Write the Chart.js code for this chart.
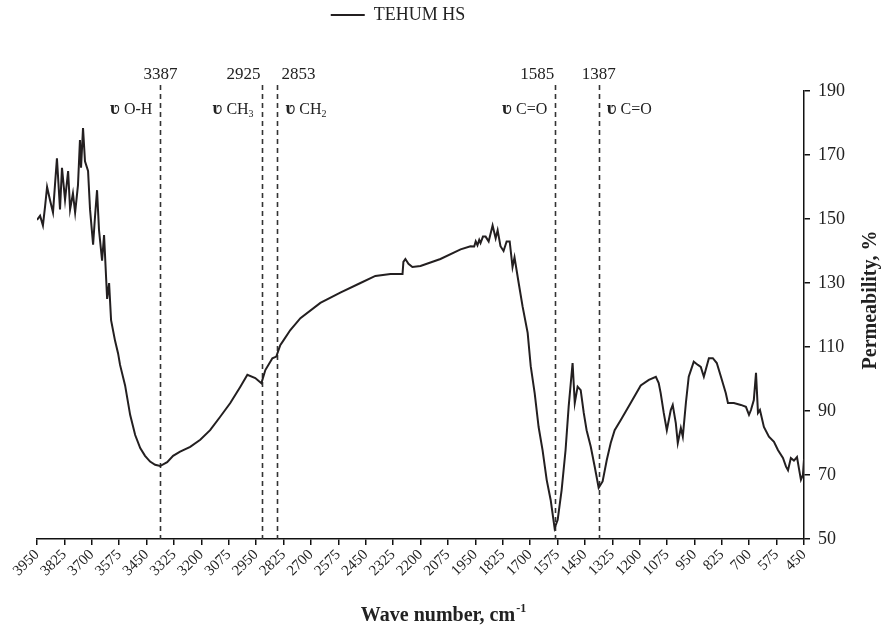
<!DOCTYPE html>
<html>
<head>
<meta charset="utf-8">
<script src="https://cdn.jsdelivr.net/npm/chart.js@4.4.0/dist/chart.umd.min.js"></script>
<style>
  html, body { margin: 0; padding: 0; background: #fff; }
  #wrap { width: 886px; height: 629px; }
</style>
</head>
<body>
<div id="wrap"><canvas id="irChart"></canvas></div>
<script>
// IR spectrum, TEHUM HS
const waveNumbers = [
  3950, 3936, 3923, 3913, 3904, 3891, 3877, 3868, 3859, 3845, 3836, 3822, 3808, 3799, 3786, 3776,
  3763, 3754, 3749, 3740, 3731, 3717, 3708, 3694, 3685, 3676, 3667, 3653, 3644, 3630, 3621, 3612,
  3594, 3580, 3571, 3548, 3525, 3502, 3479, 3457, 3434, 3411, 3388, 3356, 3329, 3297, 3251, 3205,
  3160, 3114, 3068, 3022, 2990, 2954, 2926, 2908, 2876, 2858, 2840, 2826, 2794, 2748, 2657, 2566,
  2474, 2406, 2337, 2282, 2278, 2269, 2255, 2237, 2200, 2109, 2017, 1972, 1955, 1948, 1940, 1932,
  1926, 1915, 1903, 1889, 1871, 1857, 1848, 1835, 1821, 1807, 1793, 1780, 1771, 1752, 1734, 1711,
  1697, 1679, 1661, 1643, 1624, 1606, 1588, 1574, 1556, 1538, 1524, 1506, 1496, 1483, 1469, 1455,
  1442, 1423, 1405, 1387, 1369, 1350, 1332, 1314, 1286, 1241, 1195, 1158, 1126, 1113, 1104, 1090,
  1076, 1058, 1049, 1035, 1026, 1012, 1003, 989, 976, 953, 934, 921, 907, 884, 866, 848,
  829, 807, 797, 770, 738, 715, 701, 692, 679, 669, 660, 651, 633, 610, 587, 569,
  546, 532, 523, 510, 496, 482, 473, 464, 455, 450
];
const permeability = [
  149.7, 151, 148, 154, 160, 156, 152, 160.6, 169, 153, 166, 156, 165, 153, 158, 152,
  160.6, 174.7, 166, 178.4, 168, 165, 153, 142, 151, 159, 146.5, 137, 145, 125, 130, 118.4,
  112, 108, 104.4, 98, 88.8, 82.5, 78.4, 76, 74.2, 73.2, 72.8, 74, 76, 77.3, 78.8, 81,
  84, 88.2, 92.5, 97.6, 101.3, 100.3, 98.7, 102.8, 106.5, 107, 110.6, 112, 115.3, 119, 123.8, 127,
  130, 132.2, 132.8, 132.8, 136.6, 137.5, 136, 135, 135.3, 137.5, 140.5, 141.5, 141.4, 143, 141.8, 143.5,
  142.5, 144.5, 144.5, 143, 148, 144, 146.5, 141.5, 140, 143, 143, 135, 138, 130, 122.6, 114.4,
  104, 95.6, 85, 77.8, 68.4, 62.2, 53.4, 56, 65.3, 77.8, 91.3, 105, 92.5, 97.6, 96.5, 89.4,
  84, 78.8, 72.6, 66, 68, 74.7, 80, 84, 87.2, 92.5, 98, 99.7, 100.7, 98.7, 95.6, 89.4,
  84, 90.3, 91.9, 86.2, 80, 84.7, 82, 92.5, 100.7, 105.4, 104.4, 103.8, 100.7, 106.5, 106.5, 105,
  100.7, 95.6, 92.5, 92.5, 91.9, 91.3, 88.8, 90.3, 93.4, 101.9, 89.4, 90.3, 85, 82, 80.4, 77.8,
  75.3, 72.6, 71.5, 75.3, 74.5, 75.6, 72, 68.5, 70, 75
];
const xMin = 450, xMax = 3950, xStep = 125;
const yMin = 50, yMax = 190, yStep = 20;

// marked bands
const peakPositions = [3387, 2925, 2853, 1585, 1387];
const peakGroups = ['O-H', 'CH3', 'CH2', 'C=O', 'C=O'];
const peakSides = ['left', 'left', 'right', 'left', 'right'];
const peakNumberAlign = ['center', 'right', 'left', 'right', 'center'];

const SERIF = '"Liberation Serif", "Times New Roman", "DejaVu Serif", serif';
const INK = '#231f20';

const spectrumPoints = waveNumbers.map((w, i) => ({ x: w, y: permeability[i] }));

const annotatePlugin = {
  id: 'annotate',
  afterLayout(chart) {
    // legend sits at the very top, a bit left of centre
    const lg = chart.legend;
    if (lg) {
      const h = lg.height;
      lg.top = 0;
      lg.bottom = h;
      lg.left -= 45;
      lg.right -= 45;
    }
  },
  beforeDatasetsDraw(chart) {
    const { ctx, chartArea, scales: { x } } = chart;
    ctx.save();
    ctx.strokeStyle = '#333';
    ctx.lineWidth = 1.6;
    ctx.setLineDash([5, 4]);
    peakPositions.forEach(p => {
      const px = Math.round(x.getPixelForValue(p)) + 0.5;
      ctx.beginPath();
      ctx.moveTo(px, chartArea.top - 6);
      ctx.lineTo(px, chartArea.bottom);
      ctx.stroke();
    });
    ctx.restore();
  },
  afterDraw(chart) {
    const { ctx, chartArea, scales: { x } } = chart;
    ctx.save();
    ctx.fillStyle = '#222';
    ctx.textBaseline = 'alphabetic';

    peakPositions.forEach((p, i) => {
      const px = x.getPixelForValue(p);
      // number above the line
      ctx.font = '17px ' + SERIF;
      const al = peakNumberAlign[i];
      ctx.textAlign = al;
      const nx = al === 'right' ? px - 1 : al === 'left' ? px + 4 : px;
      ctx.fillText(String(p), nx, chartArea.top - 12);

      // band label, e.g. ʋ CH3
      const name = peakGroups[i];
      const hasSub = /\d$/.test(name);
      const main = hasSub ? name.slice(0, -1) : name;
      const sub = hasSub ? name.slice(-1) : '';
      const symFont = 'bold 19px ' + SERIF;
      const mainFont = '16px ' + SERIF;
      const subFont = '10px ' + SERIF;
      ctx.font = symFont; const wSym = ctx.measureText('ʋ').width;
      ctx.font = mainFont; const wMain = ctx.measureText(' ' + main).width;
      ctx.font = subFont; const wSub = sub ? ctx.measureText(sub).width : 0;
      const total = wSym + wMain + wSub;
      let sx = peakSides[i] === 'left' ? px - 8 - total : px + 8;
      const by = chartArea.top + 23;
      ctx.textAlign = 'left';
      ctx.font = symFont; ctx.fillText('ʋ', sx, by); sx += wSym;
      ctx.font = mainFont; ctx.fillText(' ' + main, sx, by); sx += wMain;
      if (sub) { ctx.font = subFont; ctx.fillText(sub, sx, by + 3); }
    });

    // x axis title with superscript
    const xt = 'Wave number, cm';
    ctx.font = 'bold 20px ' + SERIF;
    const w1 = ctx.measureText(xt).width;
    ctx.font = 'bold 12px ' + SERIF;
    const w2 = ctx.measureText('-1').width;
    let tx = chart.width / 2 - (w1 + w2) / 2;
    ctx.textAlign = 'left';
    ctx.font = 'bold 20px ' + SERIF;
    ctx.fillText(xt, tx, 621);
    ctx.font = 'bold 12px ' + SERIF;
    ctx.fillText('-1', tx + w1 + 1, 612);

    // y axis title on the right, reading upward
    ctx.translate(876, 300);
    ctx.rotate(-Math.PI / 2);
    ctx.textAlign = 'center';
    ctx.font = 'bold 20px ' + SERIF;
    ctx.fillText('Permeability, %', 0, 0);
    ctx.restore();
  }
};

Chart.defaults.font.family = SERIF;
Chart.defaults.color = '#222';

new Chart(document.getElementById('irChart'), {
  type: 'line',
  data: {
    datasets: [{
      label: 'TEHUM HS',
      data: spectrumPoints,
      borderColor: INK,
      backgroundColor: INK,
      borderWidth: 2,
      pointRadius: 0,
      tension: 0,
      fill: false,
    }],
  },
  options: {
    responsive: true,
    maintainAspectRatio: false,
    animation: false,
    layout: { padding: { top: 2 } },
    plugins: {
      legend: {
        position: 'top',
        labels: {
          usePointStyle: true,
          pointStyle: 'line',
          pointStyleWidth: 34,
          font: { size: 18 },
          color: '#222',
          padding: 6,
        },
      },
      tooltip: { enabled: false },
    },
    scales: {
      x: {
        type: 'linear',
        reverse: true,
        min: xMin,
        max: xMax,
        border: { color: '#111', width: 1.5 },
        grid: { drawOnChartArea: false, drawTicks: true, tickLength: 6, color: '#111', lineWidth: 1.5 },
        ticks: {
          stepSize: xStep,
          autoSkip: false,
          minRotation: 45,
          maxRotation: 45,
          padding: 1,
          font: { size: 15 },
          callback: v => String(v),
        },
        afterFit(scale) {
          scale.height = 90;
          scale.paddingLeft = 37;
          scale.paddingRight = 0;
        },
      },
      y: {
        position: 'right',
        min: yMin,
        max: yMax,
        border: { color: '#111', width: 1.5 },
        grid: { drawOnChartArea: false, drawTicks: true, tickLength: 6, color: '#111', lineWidth: 1.5 },
        ticks: {
          stepSize: yStep,
          padding: 8,
          font: { size: 18 },
        },
        afterFit(scale) {
          scale.width = 82;
          scale.paddingTop = 91;
          scale.paddingBottom = 0;
        },
      },
    },
  },
  plugins: [annotatePlugin],
});
</script>
</body>
</html>
